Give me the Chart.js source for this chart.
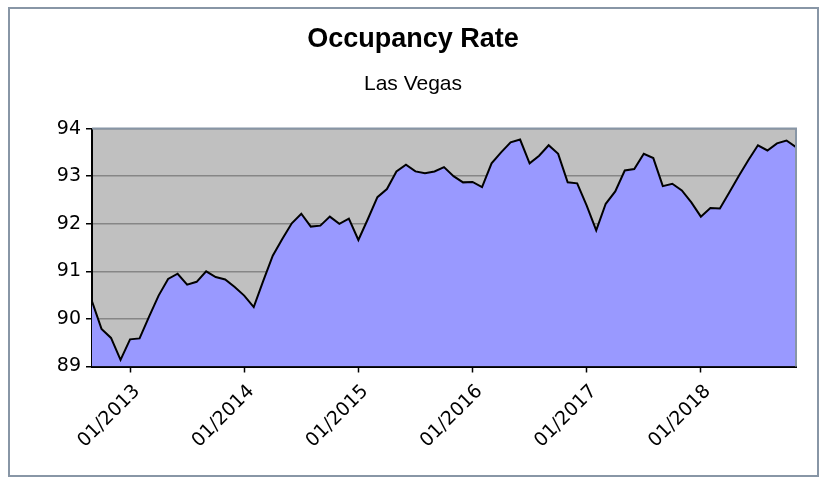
<!DOCTYPE html>
<html>
<head>
<meta charset="utf-8">
<script src="https://cdn.jsdelivr.net/npm/chart.js@4"></script>
<style>
  html, body { margin: 0; padding: 0; background: #fff; }
  #wrap { width: 826px; height: 477px; }
</style>
</head>
<body>
<div id="wrap"><canvas id="occChart" width="826" height="477"></canvas></div>
<script>
// month labels, 09/2012 .. 11/2018
const months = [
  '09/2012','10/2012','11/2012','12/2012',
  '01/2013','02/2013','03/2013','04/2013','05/2013','06/2013','07/2013','08/2013','09/2013','10/2013','11/2013','12/2013',
  '01/2014','02/2014','03/2014','04/2014','05/2014','06/2014','07/2014','08/2014','09/2014','10/2014','11/2014','12/2014',
  '01/2015','02/2015','03/2015','04/2015','05/2015','06/2015','07/2015','08/2015','09/2015','10/2015','11/2015','12/2015',
  '01/2016','02/2016','03/2016','04/2016','05/2016','06/2016','07/2016','08/2016','09/2016','10/2016','11/2016','12/2016',
  '01/2017','02/2017','03/2017','04/2017','05/2017','06/2017','07/2017','08/2017','09/2017','10/2017','11/2017','12/2017',
  '01/2018','02/2018','03/2018','04/2018','05/2018','06/2018','07/2018','08/2018','09/2018','10/2018','11/2018'
];

const occupancy = [
  90.37, 89.79, 89.60, 89.14,
  89.57, 89.59, 90.05, 90.49, 90.84, 90.95, 90.72, 90.78, 91.00, 90.88, 90.83, 90.67,
  90.49, 90.25, 90.80, 91.33, 91.68, 92.01, 92.21, 91.94, 91.96, 92.15, 92.00, 92.11,
  91.66, 92.10, 92.56, 92.73, 93.10, 93.24, 93.10, 93.06, 93.10, 93.19, 93.00, 92.87,
  92.88, 92.77, 93.27, 93.50, 93.71, 93.77, 93.27, 93.43, 93.65, 93.47, 92.87, 92.85,
  92.38, 91.86, 92.42, 92.68, 93.12, 93.15, 93.47, 93.38, 92.79, 92.84, 92.70, 92.45,
  92.15, 92.33, 92.32, 92.66, 93.01, 93.34, 93.65, 93.54, 93.69, 93.75, 93.61
];

const yMin = 89;
const yMax = 94;

// grey plot background, top/right frame and outer border
const framePlugin = {
  id: 'frame',
  beforeDraw(chart) {
    const { ctx, chartArea: a } = chart;
    ctx.save();
    ctx.fillStyle = '#c0c0c0';
    ctx.fillRect(a.left, a.top, a.right - a.left, a.bottom - a.top);
    ctx.restore();
  },
  afterDraw(chart) {
    const { ctx, chartArea: a } = chart;
    ctx.save();
    ctx.strokeStyle = '#8896a6';
    ctx.lineWidth = 2;
    ctx.beginPath();
    ctx.moveTo(a.left, a.top);
    ctx.lineTo(a.right, a.top);
    ctx.lineTo(a.right, a.bottom);
    ctx.stroke();
    ctx.strokeRect(9, 8, 809, 468);
    ctx.restore();
  }
};

new Chart(document.getElementById('occChart'), {
  type: 'line',
  data: {
    labels: months,
    datasets: [{
      data: occupancy,
      borderColor: '#000',
      borderWidth: 2,
      backgroundColor: '#9999ff',
      fill: 'start',
      pointRadius: 0,
      tension: 0
    }]
  },
  options: {
    responsive: false,
    devicePixelRatio: 1,
    animation: false,
    layout: { padding: { left: 30, right: 30, top: 0, bottom: 0 } },
    plugins: {
      legend: { display: false },
      tooltip: { enabled: false },
      title: {
        display: true,
        text: 'Occupancy Rate',
        color: '#000',
        font: { family: 'Liberation Sans', size: 27, weight: 'bold', lineHeight: 1.2 },
        padding: { top: 23, bottom: 16 }
      },
      subtitle: {
        display: true,
        text: 'Las Vegas',
        color: '#000',
        font: { family: 'Liberation Sans', size: 21, lineHeight: 1.2 },
        padding: { top: 0, bottom: 32 }
      }
    },
    scales: {
      x: {
        type: 'category',
        offset: false,
        grid: { drawOnChartArea: false, drawTicks: true, tickLength: 6, tickColor: '#000', tickWidth: 1.5 },
        border: { color: '#000', width: 2 },
        ticks: {
          autoSkip: false,
          minRotation: 45,
          maxRotation: 45,
          padding: 8,
          labelOffset: 7,
          color: '#000',
          font: { family: 'DejaVu Sans', size: 19 }
        },
        afterBuildTicks(scale) {
          scale.ticks = scale.ticks.filter(t => months[t.value].startsWith('01/'));
        },
        afterFit(scale) { scale.height = 110.5; }
      },
      y: {
        min: yMin,
        max: yMax,
        grid: { color: '#868686', lineWidth: 1.5, tickLength: 6, tickColor: '#000', tickWidth: 1.5 },
        border: { color: '#000', width: 2 },
        ticks: {
          stepSize: 1,
          padding: 5,
          color: '#000',
          font: { family: 'DejaVu Sans', size: 19 }
        },
        afterFit(scale) { scale.width = 62; }
      }
    }
  },
  plugins: [framePlugin]
});
</script>
</body>
</html>
